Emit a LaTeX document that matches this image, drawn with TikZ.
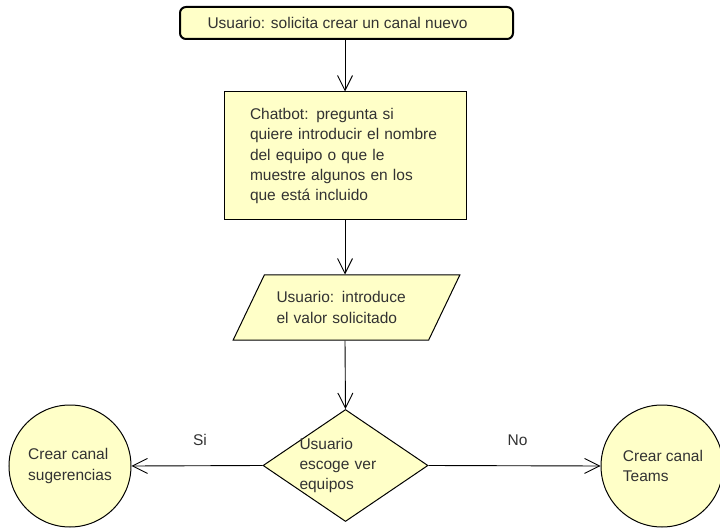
\documentclass[tikz,border=0pt]{standalone}
\usepackage{fontspec}
\setmainfont{Liberation Sans}
\usetikzlibrary{shapes.geometric,arrows.meta}
\definecolor{boxfill}{RGB}{255,255,200}
\definecolor{txt}{RGB}{50,50,50}
\begin{document}
\begin{tikzpicture}[x=1pt,y=-1pt,
  every node/.style={text=txt,font=\fontsize{15.5}{20.2}\selectfont,inner sep=0pt},
  shapebox/.style={draw=black,fill=boxfill,line width=1pt},
  startbox/.style={shapebox,rounded corners=6pt,line width=2pt,minimum width=333pt,minimum height=32pt},
  procbox/.style={shapebox,minimum width=242pt,minimum height=128pt,text width=190pt,align=left},
  iobox/.style={shapebox,trapezium,trapezium left angle=50,trapezium right angle=130,
    trapezium stretches=true,minimum width=227pt,minimum height=65pt,text width=140pt,align=left},
  decision/.style={shapebox,diamond,minimum width=165pt,minimum height=112pt},
  inner text/.style={text width=92pt,align=left},
  endcircle/.style={shapebox,circle,minimum size=122pt,align=left},
  flow/.style={line width=0.9pt,-{Straight Barb[length=15pt,width=15pt,line width=0.9pt]}},
  edgelabel/.style={font=\fontsize{15.5}{18}\selectfont}]
\useasboundingbox (0,0) rectangle (720,529);

% main column
\node[startbox] (start) at (346.5,23) {\hspace*{-18pt}Usuario: solicita crear un canal nuevo};
\node[procbox] (ask) at (345,156) {Chatbot: pregunta si\\quiere introducir el nombre\\del equipo o que le\\muestre algunos en los\\que está incluido};
\node[iobox] (input) at (346.5,307.5) {Usuario: introduce\\el valor solicitado};
% the decision text overflows its diamond, so it is set as a centred label
\node[decision,label={[name=choicetext,inner text]center:Usuario\\escoge ver\\equipos}] (choice) at (345.5,465.5) {};

% outcomes
\node[endcircle] (suggest) at (70,466) {Crear canal\\sugerencias};
\node[endcircle] (teams) at (662,466) {\hspace*{2pt}Crear canal\\\hspace*{2pt}Teams};

% connectors
\draw[flow] (start.south -| ask.north) -- (ask.north);
\draw[flow] (ask.south) -- (ask.south |- input.north);
\draw[flow] (ask.south |- input.south) -- (choice.north);
\draw[flow] (choice.west) -- (suggest.east) node[edgelabel,midway,above=20pt,xshift=3pt] {Si};
\draw[flow] (choice.east) -- (teams.west) node[edgelabel,midway,above=20pt,xshift=3pt] {No};
\end{tikzpicture}
\end{document}
